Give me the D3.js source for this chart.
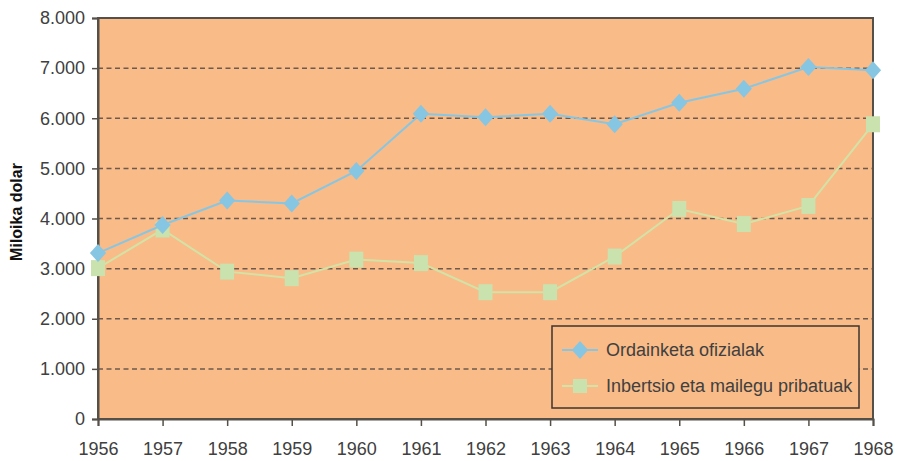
<!DOCTYPE html>
<html>
<head>
<meta charset="utf-8">
<script src="https://cdn.jsdelivr.net/npm/d3@7"></script>
<style>
  body { margin: 0; background: #fff; }
  text { font-family: "Liberation Sans", Arial, sans-serif; }
</style>
</head>
<body>
<svg id="chart" width="899" height="461"></svg>
<script>
"use strict";

var years = [1956, 1957, 1958, 1959, 1960, 1961, 1962, 1963, 1964, 1965, 1966, 1967, 1968];
var ordainketa = [3310, 3870, 4360, 4300, 4950, 6090, 6020, 6090, 5880, 6310, 6590, 7020, 6960];
var inbertsio = [3010, 3780, 2940, 2810, 3180, 3110, 2530, 2530, 3240, 4190, 3890, 4250, 5880];
var yTicks = [0, 1000, 2000, 3000, 4000, 5000, 6000, 7000, 8000];
var seriesNames = ["Ordainketa ofizialak", "Inbertsio eta mailegu pribatuak"];

var margin = { left: 98, right: 26, top: 18, bottom: 42 };
var width = 899, height = 461;

var svg = d3.select("#chart");

var x = d3.scalePoint()
    .domain(years)
    .range([margin.left, width - margin.right]);

var y = d3.scaleLinear()
    .domain([0, 8000])
    .range([height - margin.bottom, margin.top]);

var fmt = function (d) {
    return d === 0 ? "0" : d3.format(",")(d).replace(",", ".");
};

// plot background
svg.append("rect")
    .attr("x", margin.left)
    .attr("y", margin.top)
    .attr("width", width - margin.right - margin.left)
    .attr("height", height - margin.bottom - margin.top)
    .attr("fill", "#f9bb87");

// dashed grid
svg.append("g")
    .selectAll("line")
    .data(yTicks.filter(function (d) { return d > 0 && d < 8000; }))
    .join("line")
    .attr("x1", margin.left)
    .attr("x2", width - margin.right)
    .attr("y1", function (d) { return y(d); })
    .attr("y2", function (d) { return y(d); })
    .attr("stroke", "#6e5a4c")
    .attr("stroke-width", 1.5)
    .attr("stroke-dasharray", "5,3.5");

// frame
svg.append("rect")
    .attr("x", margin.left)
    .attr("y", margin.top)
    .attr("width", width - margin.right - margin.left)
    .attr("height", height - margin.bottom - margin.top)
    .attr("fill", "none")
    .attr("stroke", "#555049")
    .attr("stroke-width", 2);

// axes
var yAxis = svg.append("g")
    .attr("transform", "translate(" + margin.left + ",0)")
    .call(d3.axisLeft(y).tickValues(yTicks).tickFormat(fmt).tickSize(6).tickPadding(7));

var xAxis = svg.append("g")
    .attr("transform", "translate(0," + (height - margin.bottom) + ")")
    .call(d3.axisBottom(x).tickSize(7).tickPadding(16));

[yAxis, xAxis].forEach(function (ax) {
    ax.select(".domain").attr("stroke", "#555049").attr("stroke-width", 2);
    ax.selectAll(".tick line").attr("stroke", "#555049").attr("stroke-width", 1.5);
    ax.selectAll(".tick text")
        .attr("fill", "#404040")
        .style("font-size", "18px")
        .style("font-family", "'Liberation Sans', Arial, sans-serif");
});

svg.append("text")
    .attr("transform", "translate(22," + 212 + ") rotate(-90)")
    .attr("text-anchor", "middle")
    .attr("font-size", "16px")
    .attr("font-weight", "bold")
    .attr("fill", "#111")
    .text("Miloika dolar");

var line = d3.line()
    .x(function (d, i) { return x(years[i]); })
    .y(function (d) { return y(d); });

var diamond = function (cx, cy, r) {
    return "M" + cx + "," + (cy - r) + "L" + (cx + r * 0.9) + "," + cy +
        "L" + cx + "," + (cy + r) + "L" + (cx - r * 0.9) + "," + cy + "Z";
};

// private investment series (drawn first, under)
svg.append("path")
    .datum(inbertsio)
    .attr("d", line)
    .attr("fill", "none")
    .attr("stroke", "#d3e3a6")
    .attr("stroke-width", 2);

svg.append("g")
    .selectAll("rect")
    .data(inbertsio)
    .join("rect")
    .attr("x", function (d, i) { return x(years[i]) - 7; })
    .attr("y", function (d) { return y(d) - 8; })
    .attr("width", 14)
    .attr("height", 16)
    .attr("fill", "#c9e2ae");

// official payments series
svg.append("path")
    .datum(ordainketa)
    .attr("d", line)
    .attr("fill", "none")
    .attr("stroke", "#87c6e3")
    .attr("stroke-width", 2);

svg.append("g")
    .selectAll("path")
    .data(ordainketa)
    .join("path")
    .attr("d", function (d, i) { return diamond(x(years[i]), y(d), 9); })
    .attr("fill", "#87c6e3");

// legend
var legend = svg.append("g").attr("transform", "translate(552,326)");

legend.append("rect")
    .attr("width", 307)
    .attr("height", 82)
    .attr("fill", "#f9bb87")
    .attr("stroke", "#3d3530")
    .attr("stroke-width", 1.5);

var items = legend.selectAll("g.item")
    .data(seriesNames)
    .join("g")
    .attr("class", "item")
    .attr("transform", function (d, i) { return "translate(0," + (24 + i * 36) + ")"; });

items.append("line")
    .attr("x1", 10)
    .attr("x2", 46)
    .attr("stroke", function (d, i) { return i === 0 ? "#87c6e3" : "#d3e3a6"; })
    .attr("stroke-width", 2);

items.filter(function (d, i) { return i === 0; })
    .append("path")
    .attr("d", diamond(28, 0, 9))
    .attr("fill", "#87c6e3");

items.filter(function (d, i) { return i === 1; })
    .append("rect")
    .attr("x", 21)
    .attr("y", -7)
    .attr("width", 14)
    .attr("height", 14)
    .attr("fill", "#c9e2ae");

items.append("text")
    .attr("x", 54)
    .attr("y", 6)
    .attr("font-size", "18px")
    .attr("fill", "#404040")
    .text(function (d) { return d; });
</script>
</body>
</html>
